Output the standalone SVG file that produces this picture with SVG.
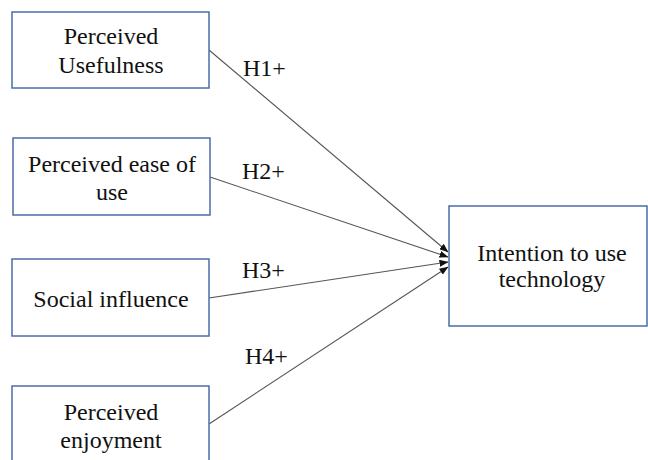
<svg xmlns="http://www.w3.org/2000/svg" width="648" height="460" viewBox="0 0 648 460">
<style>
.box{fill:#fff;stroke:#4a6ea9;stroke-width:1.5}
text{font-family:'Liberation Serif','Times New Roman',Times,serif;font-size:24px;fill:#111}
.t{text-anchor:middle}
.c{stroke:#555;stroke-width:1.1;fill:none;marker-end:url(#ah)}
</style>
<defs>
<marker id="ah" markerWidth="9" markerHeight="7" refX="8.5" refY="3.5" orient="auto" markerUnits="userSpaceOnUse">
<path d="M0,0 L9,3.5 L0,7 Z" fill="#111"/>
</marker>
</defs>
<rect width="648" height="460" fill="#fff"/>
<g id="connectors">
<line class="c" x1="209" y1="50" x2="448" y2="252"/>
<line class="c" x1="210" y1="177" x2="448" y2="257"/>
<line class="c" x1="209" y1="298" x2="448" y2="262"/>
<line class="c" x1="209" y1="424" x2="448" y2="267"/>
<text x="243" y="76">H1+</text>
<text x="242" y="179">H2+</text>
<text x="242" y="278">H3+</text>
<text x="245" y="364">H4+</text>
</g>
<g id="pu">
<rect class="box" x="12" y="12" width="197" height="76"/>
<text class="t" x="111" y="44">Perceived</text>
<text class="t" x="111" y="73">Usefulness</text>
</g>
<g id="peou">
<rect class="box" x="13" y="138" width="197" height="77"/>
<text class="t" x="112" y="172">Perceived ease of</text>
<text class="t" x="112" y="200">use</text>
</g>
<g id="si">
<rect class="box" x="12" y="259" width="197" height="77"/>
<text class="t" x="111" y="307">Social influence</text>
</g>
<g id="pe">
<rect class="box" x="12" y="386" width="197" height="90"/>
<text class="t" x="111" y="420">Perceived</text>
<text class="t" x="111" y="448">enjoyment</text>
</g>
<g id="itu">
<rect class="box" x="449" y="206" width="198" height="120"/>
<text class="t" x="552" y="261">Intention to use</text>
<text class="t" x="552" y="287">technology</text>
</g>
</svg>
